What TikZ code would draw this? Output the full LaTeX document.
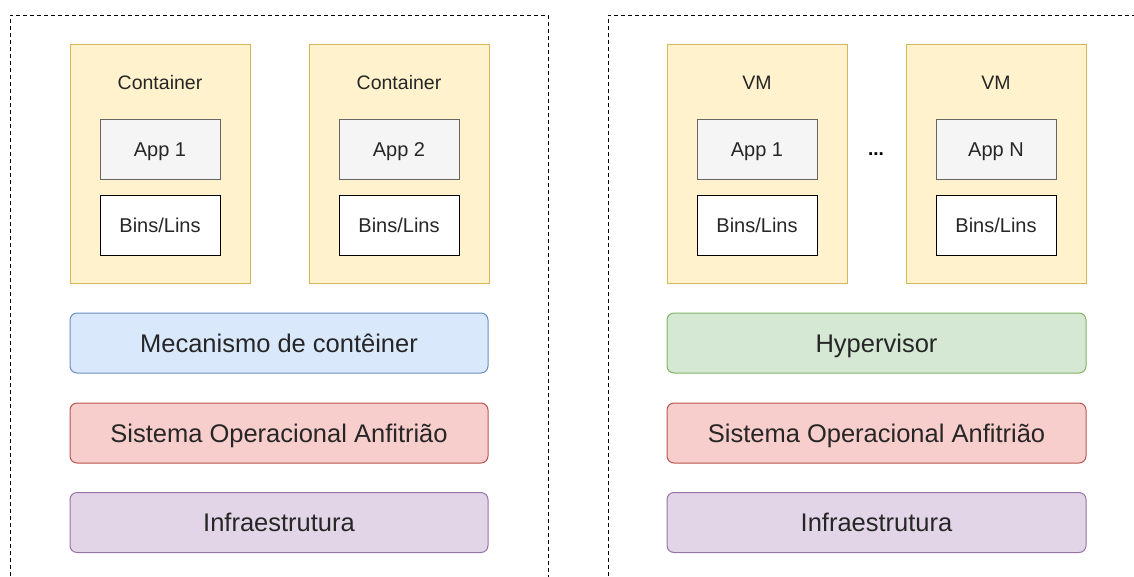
\documentclass[tikz,border=0pt]{standalone}
\usepackage{fontspec}
\setmainfont{Liberation Sans}
\definecolor{txt}{HTML}{262626}
\definecolor{ctFill}{HTML}{FFF2CC}\definecolor{ctLine}{HTML}{D6B656}
\definecolor{appFill}{HTML}{F5F5F5}\definecolor{appLine}{HTML}{666666}
\definecolor{blueFill}{HTML}{DAE8FC}\definecolor{blueLine}{HTML}{6C8EBF}
\definecolor{redFill}{HTML}{F8CECC}\definecolor{redLine}{HTML}{B85450}
\definecolor{purFill}{HTML}{E1D5E7}\definecolor{purLine}{HTML}{9673A6}
\definecolor{grnFill}{HTML}{D5E8D4}\definecolor{grnLine}{HTML}{82B366}
\tikzset{
  frame/.style={draw=black, line width=1pt, dash pattern=on 4pt off 3pt},
  % fixed height/depth so the capitals sit centred in every box
  small text/.style={text=txt, font=\fontsize{20}{22}\selectfont, text height=18.3pt, text depth=4pt},
  big text/.style={text=txt, font=\fontsize{25.5}{30}\selectfont, text height=23.3pt, text depth=5pt},
  unitbox/.style={draw=ctLine, fill=ctFill, line width=1pt, minimum width=180pt, minimum height=239pt, inner sep=0pt},
  unittitle/.style={small text, font=\fontsize{19.5}{22}\selectfont, inner sep=0pt},
  appbox/.style={draw=appLine, fill=appFill, line width=1pt, minimum width=120pt, minimum height=60pt, inner sep=0pt, small text},
  libbox/.style={draw=black, fill=white, line width=1pt, minimum width=120pt, minimum height=60pt, inner sep=0pt, small text},
  layer/.style={rounded corners=7pt, line width=1pt, minimum height=60pt, inner sep=0pt, big text},
}
\begin{document}
\begin{tikzpicture}[x=1pt, y=-1pt]
\useasboundingbox (0,0) rectangle (1134,576);
\begin{scope}
\clip (0,0) rectangle (1134,576);
% outer dashed groups (they run past the page edges)
\draw[frame] (10,590) -- (10,15) -- (548,15) -- (548,590);
\draw[frame] (608,590) -- (608,15) -- (1150,15);

% containers
\node[unitbox] (c1) at (160,163.5) {};
\node[unitbox] (c2) at (399,163.5) {};
\node[unittitle] (c1t) at (160,82) {Container};
\node[unittitle] (c2t) at (399,82) {Container};
\node[appbox] (a1) at (160,149) {App 1};
\node[appbox] (a2) at (399,149) {App 2};
\node[libbox] (l1) at (160,225) {Bins/Lins};
\node[libbox] (l2) at (399,225) {Bins/Lins};

% virtual machines
\node[unitbox] (v1) at (757,163.5) {};
\node[unitbox] (v2) at (996,163.5) {};
\node[unittitle] (v1t) at (757,82) {VM};
\node[unittitle] (v2t) at (996,82) {VM};
\node[appbox] (va1) at (757,149) {App 1};
\node[appbox] (van) at (996,149) {App N};
\node[libbox] (vl1) at (757,225) {Bins/Lins};
\node[libbox] (vl2) at (996,225) {Bins/Lins};
\node[text=black, font=\bfseries\fontsize{19}{22}\selectfont, inner sep=0pt] (dots) at (876,154.5) {...};

% stacked layers
\node[layer, draw=blueLine, fill=blueFill, minimum width=418pt] (eng) at (279,343) {Mecanismo de contêiner};
\node[layer, draw=redLine, fill=redFill, minimum width=418pt] (os1) at (279,433) {Sistema Operacional Anfitrião};
\node[layer, draw=purLine, fill=purFill, minimum width=418pt] (inf1) at (279,522.5) {Infraestrutura};
\node[layer, draw=grnLine, fill=grnFill, minimum width=419pt] (hyp) at (876.5,343) {Hypervisor};
\node[layer, draw=redLine, fill=redFill, minimum width=419pt] (os2) at (876.5,433) {Sistema Operacional Anfitrião};
\node[layer, draw=purLine, fill=purFill, minimum width=419pt] (inf2) at (876.5,522.5) {Infraestrutura};
\end{scope}
\end{tikzpicture}
\end{document}
